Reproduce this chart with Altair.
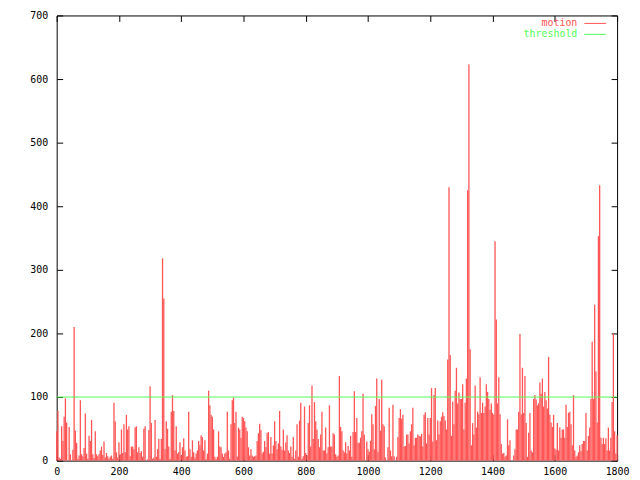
import altair as alt
import pandas as pd

# motion values, one sample every 4 frames (frame 0 .. 1800)
seg1 = [46,78,5,3,54,31,69,98,60,0,53,10,0,17,210,47,28,3,8,95,10,7,20,74,11,3,39,31,64,10,
        4,46,10,7,10,16,22,9,30,5,12,7,3,6,8,3,91,62,13,5,29,10,49,12,57,13,72,49,54,7,
        22,22,18,52,54,13,21,12,15,6,50,54,0,2,48,117,59,3,5]
seg2 = [64,6,18,34,3,34,318,255,18,62,50,22,3,77,103,78,16,54,11,13,29,8,21,35,16,6,7,77,18,6,
        32,13,5,11,16,31,24,40,37,16,32,2,11,110,87,72,69,49,6,2,6,46,22,21,11,6,11,13,77,16,
        3,57,95,99,59,77,6,52,49,36,69,67,62,52,46,21,8,18,8,6]
seg3 = [7,8,31,43,58,48,11,14,31,21,43,45,11,37,11,24,62,31,18,27,78,22,17,49,16,29,40,16,12,22,
        6,37,3,16,57,6,63,91,3,7,85,12,8,59,87,22,118,34,92,62,49,34,21,41,77,16,16,52,11,21,
        87,22,22,43,41,10,6,8,133,53,46,16,13,29,11,23,16,39,6]
seg4 = [45,109,45,67,28,28,36,46,105,41,0,30,18,14,31,73,57,18,86,129,14,97,47,127,57,54,5,0,21,83,
        16,7,88,7,0,6,37,67,81,66,72,22,23,41,41,27,46,57,83,24,36,36,41,39,38,42,22,72,76,27,
        67,41,67,114,30,103,114,32,63,41,62,69,76,70,63,49,159,430,166,39]
seg5 = [93,57,110,146,90,107,97,97,120,49,91,129,425,623,175,24,59,41,118,52,77,73,131,75,91,75,85,120,108,97,
        80,90,75,72,345,222,90,131,73,26,11,12,6,8,65,24,32,0,0,8,18,49,49,77,199,73,146,75,133,59,
        6,44,75,16,13,97,103,96,87,90,123,105,129,85,108,95,82,163,72,60]
seg6 = [53,72,19,17,59,16,52,36,49,49,36,88,53,75,77,57,24,103,16,6,8,13,24,15,26,31,31,75,16,39,
        52,97,187,97,245,140,60,353,433,36,26,36,26,35,16,52,16,36,92,200,46,11,40]
motion = seg1 + seg2 + seg3 + seg4 + seg5 + seg6
step = 4
frames = [i * step for i in range(len(motion))]
threshold = [100]

x_ticks = [0, 200, 400, 600, 800, 1000, 1200, 1400, 1600, 1800]
y_ticks = [0, 100, 200, 300, 400, 500, 600, 700]

legend_labels = ["motion", "threshold"]
legend_colors = ["#ff5555", "#55ff55"]

FONT = "DejaVu Sans Mono"
FS = 10
df = pd.DataFrame({"frame": frames, "motion": motion})
thr = pd.DataFrame({"threshold": threshold})

xs = alt.Scale(domain=[0, 1800], nice=False, zero=False)
ys = alt.Scale(domain=[0, 700], nice=False, zero=False)

common = dict(offset=-6, tickSize=6, domain=False, grid=False, title=None, format="d",
              tickColor="black", labelColor="black", labelFont=FONT, labelFontSize=FS,
              labelFlush=False, labelOverlap=False)

bottom = alt.Axis(orient="bottom", values=x_ticks, labelPadding=6, **common)
top = alt.Axis(orient="top", values=x_ticks, labels=False, **common)
left = alt.Axis(orient="left", values=y_ticks, labelPadding=9, **common)
right = alt.Axis(orient="right", values=y_ticks, labels=False, **common)

impulses = alt.Chart(df).mark_rule(color=legend_colors[0], strokeWidth=1.3).encode(
    x=alt.X("frame:Q", scale=xs, axis=bottom),
    y=alt.Y("motion:Q", scale=ys, axis=left),
    y2=alt.datum(0),
)
axes2 = alt.Chart(df).mark_point(opacity=0, size=1).encode(
    x=alt.X("frame:Q", scale=xs, axis=top),
    y=alt.Y("motion:Q", scale=ys, axis=right),
)
thr_line = alt.Chart(thr).mark_rule(color=legend_colors[1], strokeWidth=1).encode(
    y=alt.Y("threshold:Q", scale=ys, axis=None),
)

legend_layers = []
for i, (lab, col) in enumerate(zip(legend_labels, legend_colors)):
    ldf = pd.DataFrame({"label": [lab]})
    legend_layers.append(
        alt.Chart(ldf).mark_text(align="right", baseline="middle", font=FONT, fontSize=FS, color=col)
        .encode(text="label:N", x=alt.value(524), y=alt.value(8 + 11 * i))
    )
    legend_layers.append(
        alt.Chart(ldf).mark_rule(color=col, strokeWidth=1)
        .encode(x=alt.value(531), x2=alt.value(553), y=alt.value(8 + 11 * i))
    )

chart = alt.layer(impulses, axes2, thr_line, *legend_layers).resolve_axis(
    x="independent", y="independent"
).properties(
    width=564, height=448,
    padding={"left": 49, "top": 6, "right": 15, "bottom": 18},
    autosize=alt.AutoSizeParams(type="none"),
    background="white",
).configure_view(stroke="black", strokeWidth=1)

chart.save("out.html", embed_options={"renderer": "svg", "actions": False})
